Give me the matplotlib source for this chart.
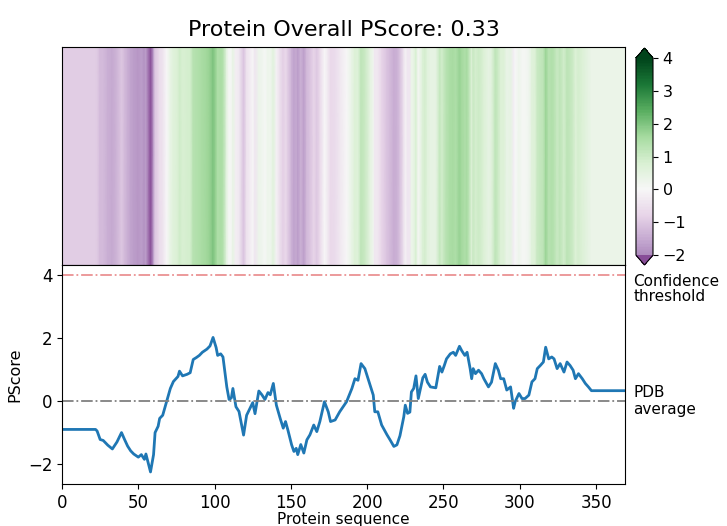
import numpy as np
import matplotlib
matplotlib.use("Agg")
import matplotlib.pyplot as plt
from matplotlib.colors import ListedColormap, Normalize

# PScore profile along the sequence (residue position, score)
residue = [0, 22, 23, 25, 27, 30, 33, 36, 39, 41, 43, 45, 47, 50, 52, 54, 55, 58, 60, 61,
           63, 64, 66, 68.5, 71, 73, 76, 77, 79, 82, 84, 86, 88, 90, 92, 95, 97, 99, 101, 102,
           104, 105.5, 108, 109.5, 111, 112, 114, 116, 119, 121, 123, 125, 126.5, 129, 131, 133,
           135, 136.5, 138.5, 140.5, 143, 145, 146.5, 148, 150.5, 152, 153.5, 154.5, 156.5, 158.5,
           160.5, 162.5, 165, 167, 169, 172, 174.5, 176, 179, 182, 186.5, 190, 192, 194, 196,
           198.5, 202, 204, 205, 207, 209.5, 213, 215, 217.5, 219.5, 221.5, 224, 225, 226.5, 228,
           229, 230.5, 232, 233.5, 236.5, 238, 239.5, 241.5, 245, 247.5, 249, 250.5, 252, 254.5,
           256.5, 258, 260.5, 262, 264, 265.5, 267.5, 268.5, 269.5, 271, 273, 275, 276.5, 279.5,
           281.5, 284, 286, 287.5, 289.5, 291.5, 294, 296, 297, 299.5, 301.5, 303.5, 306, 308,
           310, 311.5, 313.5, 315.5, 317, 319, 321, 322.5, 324.5, 326.5, 329, 331, 333, 335,
           336.5, 338.5, 341, 343, 345, 347, 369]
pscore = [-0.90, -0.90, -0.95, -1.22, -1.25, -1.40, -1.52, -1.30, -1.00, -1.22, -1.43, -1.58,
          -1.68, -1.78, -1.70, -1.85, -1.68, -2.25, -1.70, -1.00, -0.80, -0.55, -0.45, -0.02,
          0.40, 0.62, 0.78, 0.95, 0.80, 0.85, 0.90, 1.32, 1.38, 1.45, 1.55, 1.65, 1.75, 2.02,
          1.70, 1.45, 1.50, 1.40, 0.45, 0.05, 0.10, 0.40, -0.18, -0.33, -1.08, -0.45, -0.25,
          -0.05, -0.40, 0.32, 0.20, 0.05, 0.27, 0.20, 0.56, -0.13, -0.55, -0.86, -0.65, -0.91,
          -1.39, -1.60, -1.50, -1.70, -1.38, -1.65, -1.23, -1.07, -0.76, -0.97, -0.65, -0.02,
          -0.34, -0.65, -0.60, -0.34, -0.02, 0.40, 0.71, 0.66, 1.19, 1.03, 0.50, 0.19, -0.34,
          -0.34, -0.76, -1.07, -1.23, -1.44, -1.39, -1.10, -0.50, -0.13, -0.39, -0.35, 0.29,
          0.40, 0.80, 0.08, 0.74, 0.85, 0.60, 0.45, 0.42, 1.10, 0.92, 1.12, 1.34, 1.50, 1.55,
          1.45, 1.74, 1.60, 1.45, 1.55, 1.03, 0.71, 1.03, 0.87, 0.98, 0.87, 0.71, 0.45, 0.60,
          1.19, 0.98, 0.71, 0.71, 0.35, 0.45, -0.23, -0.02, 0.24, 0.08, 0.08, 0.19, 0.61, 0.71,
          1.03, 1.13, 1.24, 1.71, 1.34, 1.40, 1.34, 1.03, 1.19, 0.92, 1.24, 1.13, 0.98, 0.71,
          0.87, 0.71, 0.56, 0.45, 0.33, 0.33]
overall = 0.33
seq_len = 369
threshold = 4
pdb_avg = 0

residue = np.array(residue)
pscore = np.array(pscore)

# upper part of PRGn so that -2..4 is linear with white at 0
base = plt.get_cmap("PRGn")
cmap = ListedColormap(base(np.linspace(0.25, 1.0, 256)))
cmap.set_under(base(0.15))
cmap.set_over(base(1.0))
norm = Normalize(vmin=-2, vmax=4)

fig = plt.figure(figsize=(7.27, 5.26), dpi=100)
ax_map = fig.add_axes([0.0853, 0.4962, 0.7744, 0.4144])
ax = fig.add_axes([0.0853, 0.08, 0.7744, 0.4162])
cax = fig.add_axes([0.8748, 0.4962, 0.0234, 0.4125])

# strip heatmap
X = np.vstack([residue, residue])
Y = np.vstack([np.zeros_like(residue), np.ones_like(residue)])
C = np.vstack([pscore, pscore])
mesh = ax_map.pcolormesh(X, Y, C, cmap=cmap, norm=norm, shading="gouraud")
ax_map.set_xlim(0, seq_len)
ax_map.set_ylim(0, 1)
ax_map.set_xticks([])
ax_map.set_yticks([])
ax_map.set_title("Protein Overall PScore: %.2f" % overall, fontsize=16, pad=8)

cb = fig.colorbar(mesh, cax=cax, extend="both")
cb.set_ticks([-2, -1, 0, 1, 2, 3, 4])
cb.ax.tick_params(labelsize=11.5)

# line profile
ax.plot(residue, pscore, color="#1f77b4", lw=2)
ax.plot([0, seq_len], [threshold, threshold], color="tab:red", ls="-.", lw=1.3, alpha=0.5)
ax.plot([0, seq_len], [pdb_avg, pdb_avg], color="gray", ls="-.", lw=1.3)
ax.set_xlim(0, seq_len)
ax.set_ylim(-2.63, 4.32)
ax.set_yticks([-2, 0, 2, 4])
ax.tick_params(labelsize=12)
ax.set_xlabel("Protein sequence", fontsize=11, labelpad=0)
ax.set_ylabel("PScore", fontsize=11.5)

tr = ax.get_yaxis_transform()
ax.text(1.015, 4.02, "Confidence\nthreshold", transform=tr, va="top", ha="left",
        fontsize=11, linespacing=1.0)
ax.text(1.015, pdb_avg, "PDB\naverage", transform=tr, va="center", ha="left",
        fontsize=11, linespacing=1.1)

fig.savefig("out.png", dpi=100)
